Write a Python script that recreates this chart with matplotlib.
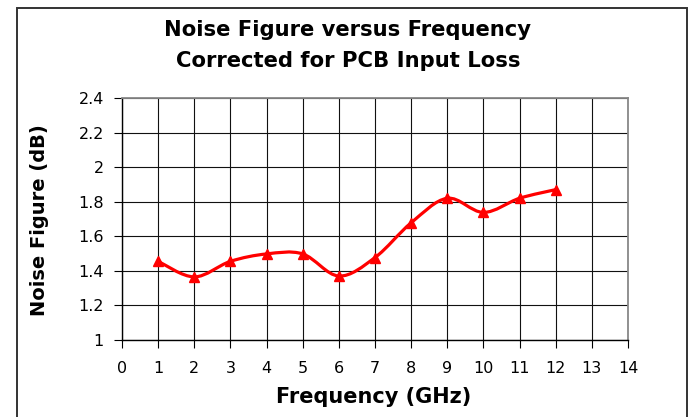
import numpy as np
import matplotlib
matplotlib.use("Agg")
import matplotlib.pyplot as plt
from matplotlib.path import Path
from matplotlib.patches import PathPatch, Rectangle

plt.rcParams["font.family"] = ["DejaVu Sans"]

# data
freq_ghz = [1, 2, 3, 4, 5, 6, 7, 8, 9, 10, 11, 12]
noise_fig_db = [1.455, 1.365, 1.455, 1.498, 1.498, 1.37, 1.477, 1.678, 1.82, 1.738, 1.82, 1.87]
x_ticks = list(range(0, 15))
y_ticks = [1.0, 1.2, 1.4, 1.6, 1.8, 2.0, 2.2, 2.4]
y_tick_labels = ["1", "1.2", "1.4", "1.6", "1.8", "2", "2.2", "2.4"]


def smooth_path(xs, ys):
    # excel style smoothed line: bezier segments, catmull-rom control points
    pts = np.column_stack([xs, ys]).astype(float)
    n = len(pts)
    verts = [pts[0]]
    codes = [Path.MOVETO]
    for i in range(n - 1):
        p0 = pts[i - 1] if i > 0 else pts[i]
        p1 = pts[i]
        p2 = pts[i + 1]
        p3 = pts[i + 2] if i + 2 < n else pts[i + 1]
        c1 = p1 + (p2 - p0) / 6.0
        c2 = p2 - (p3 - p1) / 6.0
        verts += [c1, c2, p2]
        codes += [Path.CURVE4] * 3
    return Path(verts, codes)


fig = plt.figure(figsize=(6.93, 4.17), dpi=100)
W, H = 693.0, 417.0
ax = fig.add_axes([122 / W, 1 - 340 / H, (628 - 122) / W, (340 - 98) / H])

# outer chart frame
fig.patches.append(Rectangle((17 / W, -0.1), (687 - 17) / W, 1 - 8 / H + 0.1,
                             transform=fig.transFigure, fill=False,
                             edgecolor="#333333", lw=1.4, clip_on=False))

ax.set_xlim(0, 14)
ax.set_ylim(1, 2.4)
ax.set_xticks(x_ticks)
ax.set_yticks(y_ticks)
ax.set_yticklabels(y_tick_labels)
ax.grid(True, color="#111111", lw=0.8)
ax.set_axisbelow(True)

for s in ["top", "right"]:
    ax.spines[s].set_color("#888888")
    ax.spines[s].set_linewidth(1.3)
for s in ["left", "bottom"]:
    ax.spines[s].set_color("black")
    ax.spines[s].set_linewidth(1.0)

ax.tick_params(axis="both", direction="out", length=6, width=0.8, labelsize=11.5, pad=9)
ax.tick_params(axis="y", pad=7)

ax.add_patch(PathPatch(smooth_path(freq_ghz, noise_fig_db), fill=False,
                       edgecolor="red", lw=2.3, zorder=3))
ax.plot(freq_ghz, noise_fig_db, ls="none", marker="^", ms=7, color="red", zorder=4)

fig.text(348 / W, 1 - 30 / H, "Noise Figure versus Frequency", ha="center", va="center",
         fontsize=15.2, fontweight="bold")
fig.text(348 / W, 1 - 61 / H, "Corrected for PCB Input Loss", ha="center", va="center",
         fontsize=15.2, fontweight="bold")
fig.text(374 / W, 1 - 397 / H, "Frequency (GHz)", ha="center", va="center",
         fontsize=15, fontweight="bold")
fig.text(40 / W, 1 - 220 / H, "Noise Figure (dB)", ha="center", va="center",
         rotation=90, fontsize=14, fontweight="bold")

fig.savefig("out.png", dpi=100)
